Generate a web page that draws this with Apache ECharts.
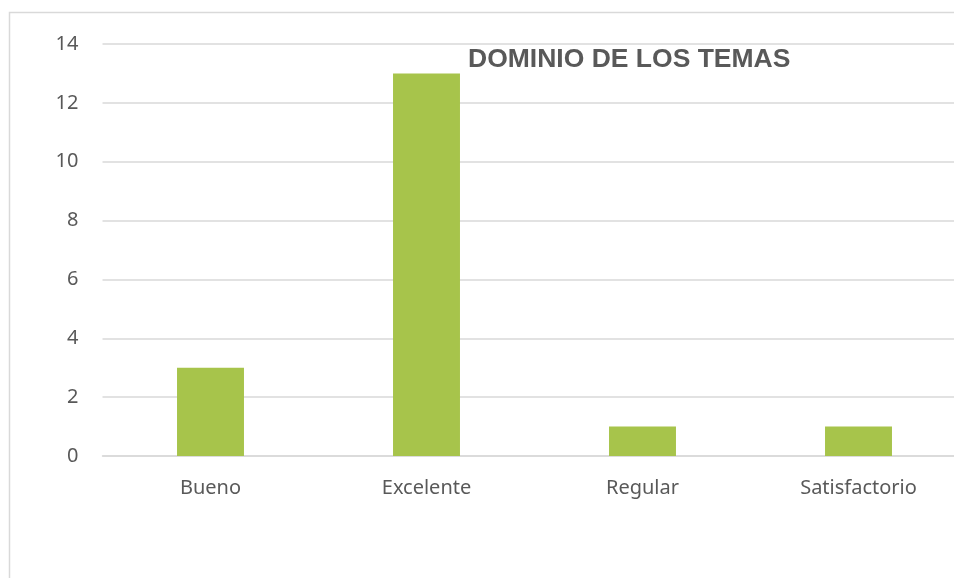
<!DOCTYPE html>
<html>
<head>
<meta charset="utf-8">
<script src="https://cdn.jsdelivr.net/npm/echarts@6/dist/echarts.min.js"></script>
<style>
  html, body { margin: 0; padding: 0; background: #fff; }
  #chart { width: 954px; height: 578px; }
</style>
</head>
<body>
<div id="chart"></div>
<script>
// datos del grafico
var categorias = ['Bueno', 'Excelente', 'Regular', 'Satisfactorio'];
var valores = [3, 13, 1, 1];
var titulo = 'DOMINIO DE LOS TEMAS';

var chart = echarts.init(document.getElementById('chart'));

var option = {
    animation: false,
    title: {
        text: titulo,
        left: 468,
        top: 46,
        padding: 0,
        textStyle: {
            fontFamily: 'Liberation Sans',
            fontSize: 26.5,
            fontWeight: 'bold',
            color: '#595959'
        }
    },
    graphic: [
        {
            type: 'rect',
            shape: { x: 9.5, y: 12.5, width: 1000, height: 1000 },
            style: { fill: 'none', stroke: '#d9d9d9', lineWidth: 1.5 },
            silent: true
        }
    ],
    grid: {
        left: 102.5,
        width: 864,
        top: 44,
        bottom: 122,
        outerBoundsMode: 'none'
    },
    xAxis: {
        type: 'category',
        data: categorias,
        axisLine: { lineStyle: { color: '#d9d9d9', width: 1.5 } },
        axisTick: { show: false },
        axisLabel: {
            fontFamily: 'Noto Sans',
            fontSize: 20,
            color: '#595959',
            margin: 22
        }
    },
    yAxis: {
        type: 'value',
        min: 0,
        max: 14,
        interval: 2,
        axisLine: { show: false },
        axisTick: { show: false },
        splitLine: { lineStyle: { color: '#d9d9d9', width: 1.5 } },
        axisLabel: {
            fontFamily: 'Noto Sans',
            fontSize: 20,
            color: '#595959',
            margin: 24
        }
    },
    series: [
        {
            type: 'bar',
            data: valores,
            barWidth: '31%',
            itemStyle: { color: '#a7c44b' }
        }
    ]
};

chart.setOption(option);
</script>
</body>
</html>
